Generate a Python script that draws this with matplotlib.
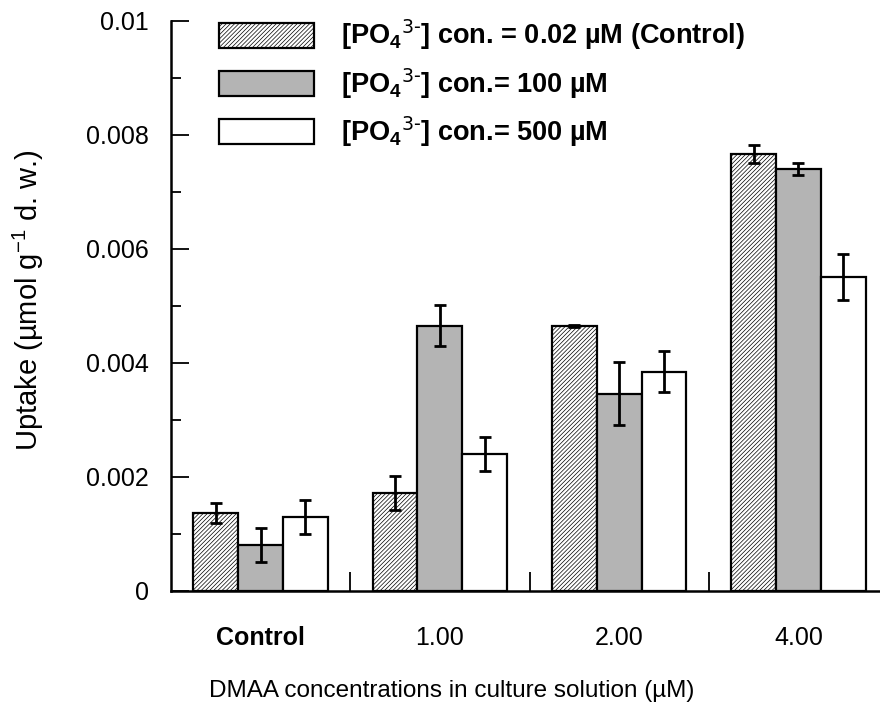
import numpy as np
import matplotlib
matplotlib.use('Agg')
import matplotlib.pyplot as plt
from matplotlib.ticker import MultipleLocator, FixedLocator

plt.rcParams['font.family'] = 'Liberation Sans'
plt.rcParams['mathtext.default'] = 'regular'
plt.rcParams['hatch.linewidth'] = 0.5
plt.rcParams['hatch.color'] = '#8c8c8c'

# datos
grupos = ['Control', '1.00', '2.00', '4.00']
series = [r'[PO$_4$$^{\text{3-}}$] con. = 0.02 µM (Control)',
          r'[PO$_4$$^{\text{3-}}$] con.= 100 µM',
          r'[PO$_4$$^{\text{3-}}$] con.= 500 µM']
control_002 = [0.00137, 0.00172, 0.00465, 0.00767]
err_002 = [0.00017, 0.00030, 0.00002, 0.00016]
po4_100 = [0.00081, 0.00465, 0.00346, 0.00740]
err_100 = [0.00030, 0.00036, 0.00055, 0.00010]
po4_500 = [0.00130, 0.00240, 0.00385, 0.00551]
err_500 = [0.00030, 0.00030, 0.00036, 0.00040]

valores = [control_002, po4_100, po4_500]
errores = [err_002, err_100, err_500]
colores = ['white', '#b4b4b4', 'white']
tramas = ['////////', None, None]

fig = plt.figure(figsize=(8.8, 7.22), dpi=100)
ax = fig.add_axes([171/880, 1 - 591/722, 717/880, 570/722])

x = np.arange(len(grupos))
ancho = 0.25
for i in range(3):
    ax.bar(x + (i - 1) * ancho, valores[i], ancho, color=colores[i],
           hatch=tramas[i], edgecolor='black', linewidth=1.6,
           label=series[i], zorder=2)
for i in range(3):
    ax.errorbar(x + (i - 1) * ancho, valores[i], yerr=errores[i], fmt='none',
                ecolor='black', elinewidth=2.0, capsize=4, capthick=2.0, zorder=3)

ax.set_xlim(-0.5, 3.5)
ax.set_ylim(0, 0.01)
ax.spines['top'].set_visible(False)
ax.spines['right'].set_visible(False)
ax.spines['left'].set_linewidth(1.8)
ax.spines['bottom'].set_linewidth(1.8)

ax.yaxis.set_minor_locator(MultipleLocator(0.001))
ax.set_yticks([0, 0.002, 0.004, 0.006, 0.008, 0.01])
ax.set_yticklabels(['0', '0.002', '0.004', '0.006', '0.008', '0.01'])
ax.tick_params(axis='y', which='major', direction='in', length=13, width=1.3,
               pad=16, labelsize=18)
ax.tick_params(axis='y', which='minor', direction='in', length=7, width=1.3)

ax.set_xticks(x)
ax.set_xticklabels(grupos)
ax.xaxis.set_minor_locator(FixedLocator([0.5, 1.5, 2.5]))
ax.tick_params(axis='x', which='major', length=0, pad=25, labelsize=18)
ax.tick_params(axis='x', which='minor', direction='in', length=14, width=1.3)
ax.get_xticklabels()[0].set_fontweight('bold')

fig.text(28/880, 1 - 300/722, r'Uptake (µmol g$^{-1}$ d. w.)', fontsize=21,
         rotation=90, ha='center', va='center')
fig.text(452/880, 1 - 691/722, 'DMAA concentrations in culture solution (µM)',
         fontsize=17.5, ha='center', va='center')

ax.legend(loc='upper left', bbox_to_anchor=(219/880, 1 - 18/722),
          bbox_transform=fig.transFigure, frameon=False, borderpad=0,
          borderaxespad=0, handlelength=3.5, handleheight=1.05,
          handletextpad=1.0, labelspacing=0.5,
          prop={'size': 19.5, 'weight': 'bold'})

fig.savefig('out.png', dpi=100)
